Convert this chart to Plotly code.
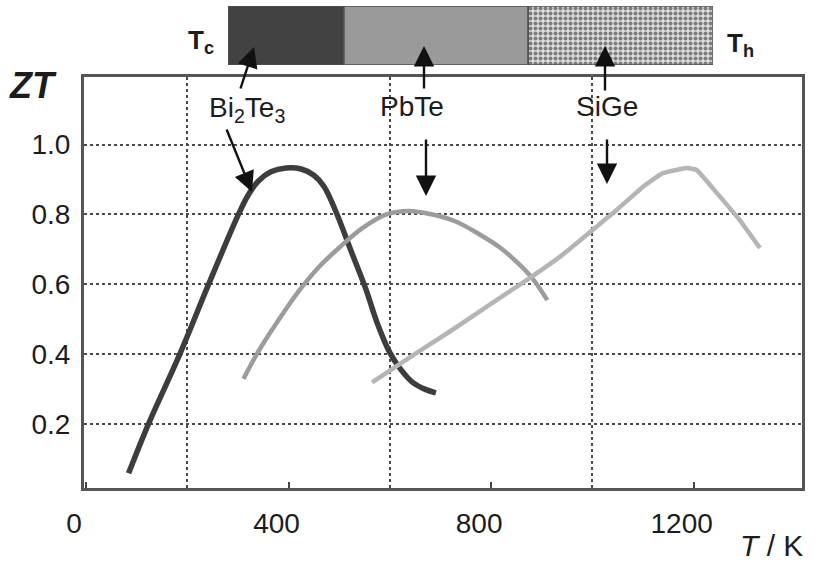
import plotly.graph_objects as go

# ZT versus temperature for three thermoelectric materials
bi2te3_T = [84, 123, 185, 242, 301, 320, 340, 365, 395, 425, 450, 470, 493, 525, 553, 575, 600, 620, 645, 670, 691]
bi2te3_ZT = [0.06, 0.20, 0.40, 0.60, 0.80, 0.855, 0.895, 0.922, 0.933, 0.93, 0.912, 0.88, 0.81, 0.69, 0.585, 0.49, 0.405, 0.36, 0.32, 0.30, 0.29]

pbte_T = [311, 337, 365, 395, 425, 460, 500, 545, 593, 638, 684, 730, 775, 818, 850, 880, 911]
pbte_ZT = [0.33, 0.40, 0.465, 0.53, 0.59, 0.65, 0.705, 0.76, 0.80, 0.81, 0.80, 0.78, 0.745, 0.705, 0.665, 0.62, 0.555]

sige_T = [565, 638, 717, 796, 876, 935, 1000, 1048, 1099, 1139, 1187, 1206, 1246, 1291, 1331]
sige_ZT = [0.32, 0.39, 0.464, 0.541, 0.618, 0.678, 0.755, 0.813, 0.878, 0.918, 0.933, 0.927, 0.861, 0.784, 0.704]

x_tick_vals = [0, 400, 800, 1200]
x_tick_text = ["0", "400", "800", "1200"]
x_grid_vals = [200, 600, 1000]
y_tick_vals = [0.2, 0.4, 0.6, 0.8, 1.0]
y_tick_text = ["0.2", "0.4", "0.6", "0.8", "1.0"]

material_labels = ["Bi<sub>2</sub>Te<sub>3</sub>", "PbTe", "SiGe"]

# figure geometry (pixels)
W, H = 815, 565
ML, MR, MT, MB = 84, 13, 5, 77
PW = W - ML - MR
PH = H - MT - MB


def fx(xpix):
    return (xpix - ML) / PW


def fy(ypix):
    return (H - MB - ypix) / PH


FONT = "Liberation Sans, Arial, sans-serif"
INK = "#1c1c1c"
GRID = "#4a4a4a"

fig = go.Figure()

fig.add_trace(go.Scatter(x=bi2te3_T, y=bi2te3_ZT, mode="lines",
                         line=dict(color="#3d3d3d", width=5.5, shape="spline", smoothing=1.0),
                         showlegend=False, hoverinfo="skip"))
fig.add_trace(go.Scatter(x=pbte_T, y=pbte_ZT, mode="lines",
                         line=dict(color="#9c9c9c", width=4.5, shape="spline", smoothing=1.0),
                         showlegend=False, hoverinfo="skip"))
fig.add_trace(go.Scatter(x=sige_T, y=sige_ZT, mode="lines",
                         line=dict(color="#b5b5b5", width=4.5, shape="spline", smoothing=0.3),
                         showlegend=False, hoverinfo="skip"))

# segmented bar from the cold side (Tc) to the hot side (Th)
seg_start = [0.0, 0.239, 0.619]
seg_len = [0.239, 0.380, 0.381]
seg_color = ["#424242", "#9a9a9a", "#d8d8d8"]
for i in range(3):
    marker = dict(color=seg_color[i], line=dict(color="#505050", width=1.5))
    if i == 2:
        marker["pattern"] = dict(shape=".", size=5, solidity=0.5,
                                 fgcolor="#7c7c7c", bgcolor="#dedede", fillmode="replace")
    fig.add_trace(go.Bar(y=[0], x=[seg_len[i]], base=[seg_start[i]], orientation="h",
                         width=1, marker=marker, xaxis="x2", yaxis="y2",
                         showlegend=False, hoverinfo="skip"))

fig.update_layout(
    width=W, height=H,
    margin=dict(l=ML, r=MR, t=MT, b=MB),
    paper_bgcolor="white", plot_bgcolor="white",
    font=dict(family=FONT, color=INK, size=28),
    barmode="overlay",
    xaxis=dict(
        range=[-4, 1414], domain=[0, 1],
        tickmode="array", tickvals=x_tick_vals, ticktext=x_tick_text,
        ticks="inside", ticklen=6, tickwidth=2, tickcolor="#444",
        ticklabelshift=-12, ticklabelstandoff=8,
        showgrid=False, zeroline=False,
        showline=True, linecolor="#555", linewidth=3, mirror=True,
        tickfont=dict(size=28, color=INK),
        minor=dict(tickmode="array", tickvals=x_grid_vals, showgrid=True,
                   gridcolor=GRID, gridwidth=1.5, griddash="dot", ticks=""),
    ),
    yaxis=dict(
        range=[0.018, 1.193], domain=[0, fy(77)],
        tickmode="array", tickvals=y_tick_vals, ticktext=y_tick_text,
        ticks="", ticklabelstandoff=5,
        showgrid=True, gridcolor=GRID, gridwidth=1.5, griddash="dot",
        zeroline=False,
        showline=True, linecolor="#555", linewidth=3, mirror=True,
        tickfont=dict(size=28, color=INK),
    ),
    xaxis2=dict(domain=[fx(228), fx(713)], range=[0, 1], anchor="y2",
                visible=False, fixedrange=True),
    yaxis2=dict(domain=[fy(65), fy(6)], range=[-0.5, 0.5], anchor="x2",
                visible=False, fixedrange=True),
)

annotations = [
    dict(x=fx(33), y=fy(85), text="<b><i>ZT</i></b>", font=dict(size=36)),
    dict(x=fx(771), y=fy(545), text="<i>T</i> / K", font=dict(size=30)),
    dict(x=fx(201), y=fy(41), text="<b>T<sub>c</sub></b>", font=dict(size=26)),
    dict(x=fx(740), y=fy(44), text="<b>T<sub>h</sub></b>", font=dict(size=26)),
    dict(x=fx(247), y=fy(109), text=material_labels[0], font=dict(size=28)),
    dict(x=fx(412), y=fy(107), text=material_labels[1], font=dict(size=28)),
    dict(x=fx(607), y=fy(106), text=material_labels[2], font=dict(size=28)),
]
for a in annotations:
    a.update(xref="paper", yref="paper", showarrow=False,
             xanchor="center", yanchor="middle")
    fig.add_annotation(**a)

# arrows: (tip_x, tip_y, tail_x, tail_y) in pixels
arrows = [
    (254, 47, 240, 90),
    (424, 46, 424, 90),
    (605, 46, 605, 92),
    (252, 192, 226, 128),
    (426, 196, 426, 138),
    (607, 184, 607, 138),
]
for tx, ty, sx, sy in arrows:
    fig.add_annotation(x=fx(tx), y=fy(ty), xref="paper", yref="paper",
                       ax=sx - tx, ay=sy - ty, text="", showarrow=True,
                       arrowhead=2, arrowsize=1.7, arrowwidth=2.4,
                       arrowcolor="#111")

fig.write_html("out.html")
